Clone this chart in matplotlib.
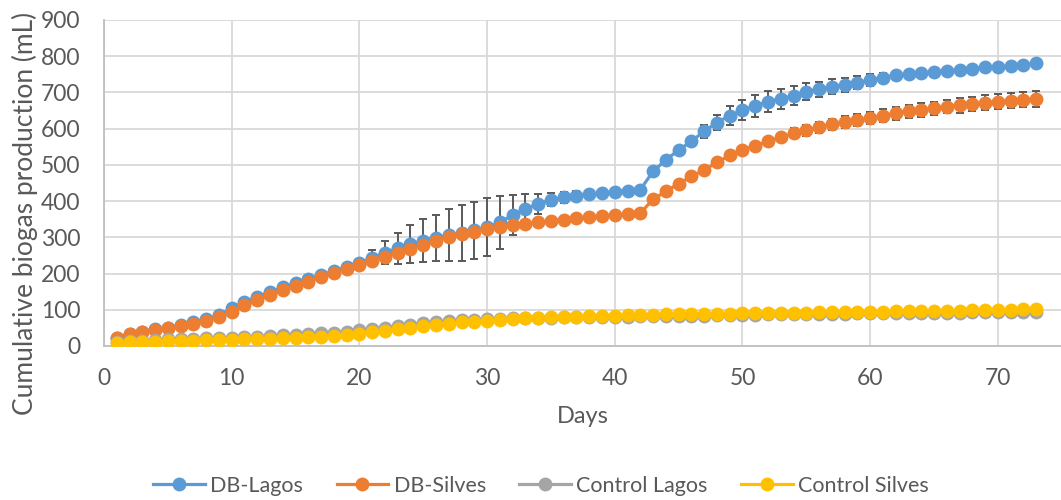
import numpy as np
import matplotlib
matplotlib.use("Agg")
import matplotlib.pyplot as plt

plt.rcParams['font.family'] = ['Lato', 'DejaVu Sans']

# days of the test
days = list(range(1, 74))

# cumulative biogas (mL)
db_lagos = [22, 33, 40, 46, 51, 58, 65, 74, 86, 104,
            122, 136, 150, 162, 174, 185, 196, 207, 218, 230,
            243, 258, 270, 281, 291, 299, 306, 312, 319, 328,
            341, 362, 379, 392, 404, 410, 415, 419, 422, 426,
            429, 432, 482, 514, 541, 565, 593, 617, 636, 651,
            663, 675, 682, 691, 702, 709, 716, 721, 727, 735,
            741, 747, 751, 754, 757, 760, 762, 766, 769, 771,
            773, 776, 780]
db_lagos_sd = [2, 2, 2, 3, 3, 3, 3, 3, 4, 4,
               4, 4, 5, 5, 5, 5, 6, 6, 7, 11,
               22, 32, 43, 52, 59, 64, 71, 76, 78, 80,
               74, 56, 41, 28, 18, 16, 14, 13, 12, 10,
               8, 6, 6, 8, 10, 12, 18, 22, 27, 27,
               30, 28, 27, 27, 23, 21, 20, 19, 18, 17,
               14, 12, 10, 9, 8, 7, 7, 6, 6, 6,
               5, 5, 5]

db_silves = [22, 33, 40, 45, 50, 56, 62, 70, 80, 94,
             112, 126, 142, 154, 166, 178, 190, 201, 213, 223,
             236, 247, 257, 268, 280, 291, 302, 309, 316, 323,
             329, 335, 338, 341, 346, 349, 352, 355, 358, 361,
             364, 367, 405, 427, 448, 468, 486, 507, 526, 541,
             553, 565, 576, 587, 596, 604, 612, 618, 624, 629,
             636, 642, 648, 652, 656, 661, 664, 668, 672, 675,
             677, 680, 683]
db_silves_sd = [2, 2, 2, 2, 2, 2, 2, 2, 2, 3,
                3, 3, 3, 3, 3, 3, 3, 3, 3, 3,
                3, 3, 3, 3, 3, 3, 3, 3, 3, 3,
                3, 3, 3, 3, 3, 3, 3, 3, 3, 3,
                3, 3, 3, 4, 4, 5, 5, 6, 7, 8,
                10, 12, 13, 14, 15, 15, 16, 16, 17, 17,
                18, 18, 18, 19, 19, 19, 20, 20, 20, 21,
                21, 21, 22]

control_lagos = [12, 14, 15, 17, 18, 19, 20, 21, 22, 23,
                 24, 26, 27, 29, 31, 33, 35, 37, 40, 43,
                 47, 51, 55, 59, 63, 66, 69, 71, 73, 74,
                 75, 76, 77, 78, 78, 79, 79, 80, 80, 81,
                 81, 82, 82, 83, 83, 84, 84, 85, 85, 86,
                 86, 87, 87, 88, 88, 89, 89, 89, 90, 90,
                 90, 91, 91, 91, 92, 92, 92, 93, 93, 93,
                 94, 94, 94]

control_silves = [9, 10, 11, 12, 13, 14, 15, 16, 16, 17,
                  18, 19, 20, 21, 23, 24, 26, 28, 31, 34,
                  38, 42, 46, 50, 55, 59, 62, 65, 67, 70,
                  72, 74, 76, 77, 79, 80, 81, 82, 83, 84,
                  85, 86, 86, 87, 87, 88, 88, 89, 89, 90,
                  90, 91, 91, 92, 92, 93, 93, 94, 94, 95,
                  95, 96, 96, 97, 97, 98, 98, 99, 99, 100,
                  100, 101, 101]

names = ['DB-Lagos', 'DB-Silves', 'Control Lagos', 'Control Silves']
colors = ['#5B9BD5', '#ED7D31', '#A5A5A5', '#FFC000']
txt = '#595959'

fig = plt.figure(figsize=(10.61, 5.0), dpi=100)
ax = fig.add_axes([104 / 1061, 154 / 500, 957 / 1061, 326 / 500])

series = [(db_lagos, db_lagos_sd), (db_silves, db_silves_sd),
          (control_lagos, None), (control_silves, None)]
handles = []
for i, (vals, sd) in enumerate(series):
    if sd is not None:
        ax.errorbar(days, vals, yerr=sd, fmt='none', ecolor='#595959',
                    elinewidth=1.4, capsize=3.2, capthick=1.4, zorder=2 + 2 * i)
    h, = ax.plot(days, vals, color=colors[i], lw=2.3, marker='o', ms=10,
                 markeredgewidth=0, label=names[i], zorder=3 + 2 * i)
    handles.append(h)

ax.set_xlim(0, 957 / 12.77)
ax.set_ylim(0, 900)
ax.set_xticks(range(0, 80, 10))
ax.set_yticks(range(0, 1000, 100))
ax.grid(True, color='#d9d9d9', lw=1.3)
ax.set_axisbelow(True)
for s in ['top', 'right']:
    ax.spines[s].set_visible(False)
for s in ['left', 'bottom']:
    ax.spines[s].set_color('#bfbfbf')
    ax.spines[s].set_linewidth(1.3)
ax.tick_params(length=0, labelsize=16.5, colors=txt)
ax.tick_params(axis='y', pad=17)
ax.tick_params(axis='x', pad=16)

ax.set_xlabel('Days', fontsize=17, color=txt, labelpad=12)
ax.set_ylabel('Cumulative biogas production (mL)', fontsize=19, color=txt)
ax.yaxis.set_label_coords(-0.069, 0.406)

fig.legend(handles=handles, loc='center', bbox_to_anchor=(0.51, 0.028), ncol=4,
           frameon=False, fontsize=15.5, labelcolor=txt, handlelength=2.4,
           columnspacing=1.55, handletextpad=0.25)

fig.savefig('out.png', dpi=100)
